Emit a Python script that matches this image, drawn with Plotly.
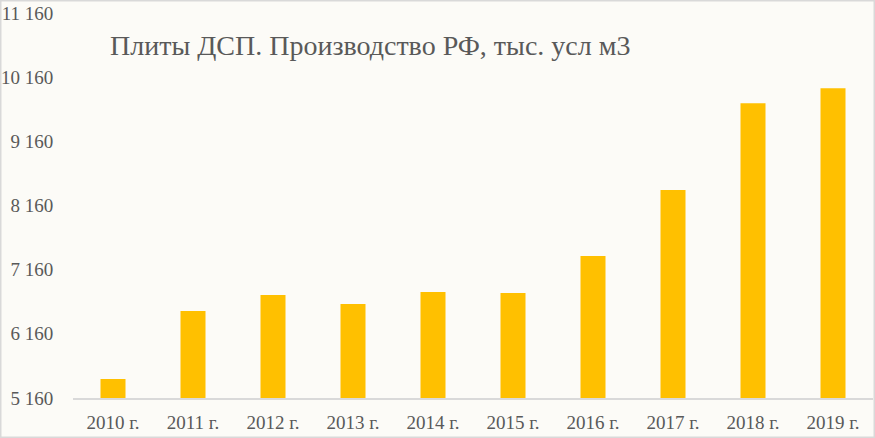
import plotly.graph_objects as go

years = ["2010 г.", "2011 г.", "2012 г.", "2013 г.", "2014 г.", "2015 г.", "2016 г.", "2017 г.", "2018 г.", "2019 г."]
values = [5456, 6515, 6764, 6624, 6811, 6796, 7372, 8400, 9755, 9989]
tick_vals = [5160, 6160, 7160, 8160, 9160, 10160, 11160]
tick_text = ["5 160", "6 160", "7 160", "8 160", "9 160", "10 160", "11 160"]
title = "Плиты ДСП. Производство РФ, тыс. усл м3"

FONT = "Liberation Serif"
W, H = 875, 438
ML, MR, MT, MB = 73, 2, 13, 40
PW, PH = W - ML - MR, H - MT - MB

fig = go.Figure(go.Bar(
    x=years, y=values, marker_color="#FFC000", marker_line_width=0, width=0.3125,
))

fig.update_layout(
    width=W, height=H,
    margin=dict(l=ML, r=MR, t=MT, b=MB),
    paper_bgcolor="#FCFBF7", plot_bgcolor="#FCFBF7",
    showlegend=False,
    font=dict(family=FONT, color="#595959", size=19),
    xaxis=dict(
        showgrid=False, showline=True, linecolor="#D9D9D9", linewidth=1.5,
        ticks="outside", ticklen=6, tickcolor="rgba(0,0,0,0)",
        tickfont=dict(size=19, color="#595959", family=FONT),
        zeroline=False,
    ),
    yaxis=dict(
        range=[5160, 11160], tickvals=tick_vals, ticktext=tick_text,
        showgrid=False, showline=False, zeroline=False,
        ticks="outside", ticklen=15, tickcolor="rgba(0,0,0,0)",
        tickfont=dict(size=19, color="#595959", family=FONT),
    ),
    annotations=[dict(
        text=title, xref="paper", yref="paper",
        x=(108 - ML) / PW, y=1 - (45 - MT) / PH, xanchor="left", yanchor="middle",
        showarrow=False, font=dict(size=28, color="#595959", family=FONT),
    )],
    shapes=[dict(
        type="rect", xref="paper", yref="paper",
        x0=(0.75 - ML) / PW, x1=(W - 0.75 - ML) / PW,
        y0=1 + (MT - 0.75) / PH, y1=-(MB - 0.75) / PH,
        line=dict(color="#D9D9D9", width=1.5), layer="below",
    )],
)

fig.write_html("out.html", config={"displayModeBar": False},
               post_script="document.body.style.margin='0';")
